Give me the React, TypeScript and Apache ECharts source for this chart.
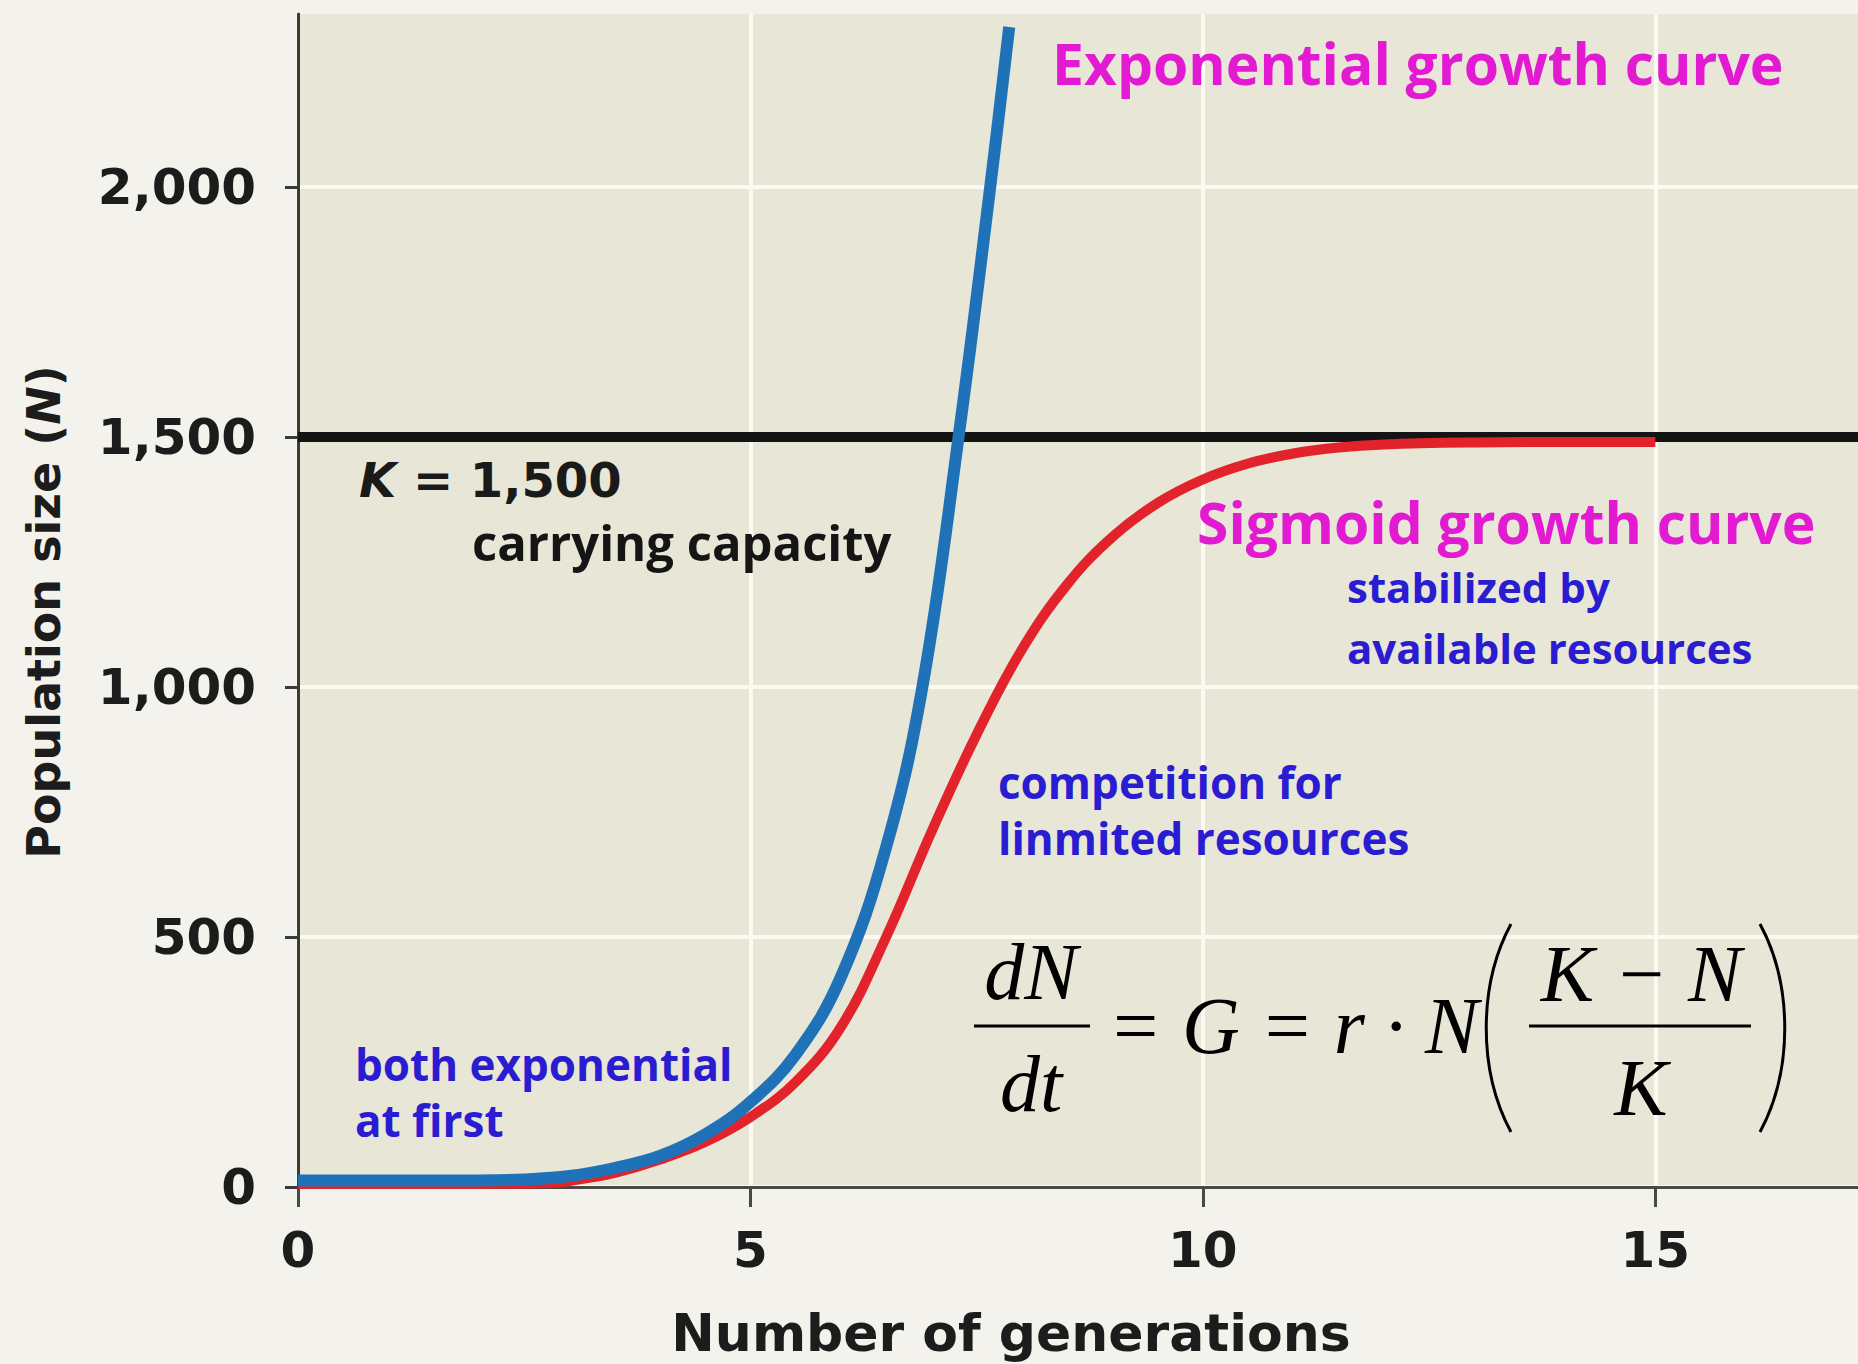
import React, { useEffect, useRef } from "react";
import * as echarts from "echarts";

const X_MAX = 17.24;
const Y_MAX = 2346;
const K_VALUE = 1500;
const xTickValues = [0, 5, 10, 15];
const yTickValues = [0, 500, 1000, 1500, 2000];

const expGen = [0, 1, 2, 2.5, 3, 3.5, 4, 4.5, 5, 5.5, 6, 6.5, 6.9, 7.3, 7.65, 7.86];
const expPop = [13, 13, 13, 15, 22, 38, 62, 105, 170, 265, 420, 680, 1000, 1500, 2000, 2320];

const sigGen = [0, 1, 2, 2.8, 3.2, 3.5, 4, 4.5, 5, 5.5, 6, 6.5, 7, 7.5, 8, 8.5, 9, 9.5, 10, 10.5, 11, 11.5, 12, 13, 14, 15];
const sigPop = [6, 6, 6, 8, 18, 28, 55, 90, 140, 210, 320, 500, 710, 905, 1075, 1205, 1300, 1368, 1415, 1447, 1467, 1479, 1485, 1489, 1490, 1490];

const MAGENTA = "#e21bd2";
const BLUE_TEXT = "#2a1cd0";
const CAL = "'Open Sans', Lato, sans-serif";
const SERIF = "'Liberation Serif', 'DejaVu Serif', serif";
const HELV = "'DejaVu Sans', 'Liberation Sans', sans-serif";

function fmt(v: number): string {
  if (v >= 1000) {
    return `${Math.floor(v / 1000)},${String(v % 1000).padStart(3, "0")}`;
  }
  return String(v);
}

function txt(text: string, x: number, y: number, size: number, fill: string, family = CAL, weight: any = "bold", extra: any = {}) {
  return {
    type: "text",
    x,
    y,
    z: 100,
    style: {
      text,
      fontSize: size,
      fontFamily: family,
      fontWeight: weight,
      lineHeight: Math.round(size * 1.0),
      fill,
      align: "left",
      verticalAlign: "middle",
      ...extra,
    },
  };
}

export default function App() {
  const ref = useRef<HTMLDivElement>(null);
  useEffect(() => {
    document.body.style.margin = "0";
    if (!ref.current) return;
    const chart = echarts.init(ref.current, undefined, { renderer: "svg" });
    const option: any = {
      animation: false,
      backgroundColor: "#f4f2ec",
      grid: {
        left: 298,
        right: 0,
        top: 14,
        bottom: 177,
        show: true,
        backgroundColor: "#e8e6d6",
        borderWidth: 0,
        containLabel: false,
      },
      xAxis: {
        type: "value",
        min: 0,
        max: X_MAX,
        interval: 5,
        axisLine: { show: true, lineStyle: { color: "#4a4a44", width: 3 } },
        axisTick: { show: true, length: 20, lineStyle: { color: "#4a4a44", width: 3 }, customValues: xTickValues },
        axisLabel: {
          customValues: xTickValues,
          margin: 38,
          fontSize: 50,
          fontFamily: HELV,
          fontWeight: "bold",
          color: "#1c1c1c",
          formatter: (v: number) => String(v),
        },
        splitLine: { show: true, lineStyle: { color: "#fbfaf2", width: 4 } },
      },
      yAxis: {
        type: "value",
        min: 0,
        max: Y_MAX,
        interval: 500,
        axisLine: { show: true, lineStyle: { color: "#3a3a36", width: 3 } },
        axisTick: { show: true, length: 13, lineStyle: { color: "#3a3a36", width: 3 }, customValues: yTickValues },
        axisLabel: {
          customValues: yTickValues,
          margin: 42,
          fontSize: 50,
          fontFamily: HELV,
          fontWeight: "bold",
          color: "#1c1c1c",
          formatter: (v: number) => fmt(v),
        },
        splitLine: { show: true, lineStyle: { color: "#fbfaf2", width: 4 } },
      },
      series: [
        {
          name: "K",
          type: "line",
          data: [[0, K_VALUE], [X_MAX, K_VALUE]],
          symbol: "none",
          lineStyle: { color: "#141414", width: 10 },
          silent: true,
        },
        {
          name: "Sigmoid",
          type: "line",
          data: sigGen.map((g, i) => [g, sigPop[i]]),
          symbol: "none",
          smooth: 0.4,
          lineStyle: { color: "#e3232b", width: 10 },
        },
        {
          name: "Exponential",
          type: "line",
          data: expGen.map((g, i) => [g, expPop[i]]),
          symbol: "none",
          smooth: 0.4,
          lineStyle: { color: "#1f72b8", width: 12 },
        },
      ],
      graphic: [
        {
          type: "text",
          x: 44,
          y: 612,
          rotation: Math.PI / 2,
          z: 100,
          style: {
            text: "{a|Population size (}{b|N}{a|)}",
            align: "center",
            verticalAlign: "middle",
            rich: {
              a: { fontSize: 46, fontFamily: HELV, fontWeight: "bold", fill: "#1c1c1c" },
              b: { fontSize: 46, fontFamily: HELV, fontWeight: "bold", fontStyle: "italic", fill: "#1c1c1c" },
            },
          },
        },
        {
          type: "text",
          x: 1011,
          y: 1333,
          z: 100,
          style: {
            text: "Number of generations",
            fontSize: 52,
            fontFamily: HELV,
            fontWeight: "bold",
            fill: "#1c1c1c",
            align: "center",
            verticalAlign: "middle",
          },
        },
        txt("Exponential growth curve", 1052, 63, 57, MAGENTA),
        {
          type: "text",
          x: 359,
          y: 480,
          z: 100,
          style: {
            text: "{k|K}{n| = 1,500}",
            align: "left",
            verticalAlign: "middle",
            rich: {
              k: { fontSize: 48, lineHeight: 48, fontFamily: HELV, fontStyle: "italic", fontWeight: "bold", fill: "#1a1a1a" },
              n: { fontSize: 48, lineHeight: 48, fontFamily: HELV, fontWeight: "bold", fill: "#1a1a1a" },
            },
          },
        },
        txt("carrying capacity", 472, 542, 49, "#151515"),
        txt("Sigmoid growth curve", 1197, 522, 57, MAGENTA),
        txt("stabilized by", 1347, 586, 42, BLUE_TEXT),
        txt("available resources", 1347, 647, 42, BLUE_TEXT),
        txt("competition for", 998, 782, 44, BLUE_TEXT),
        txt("linmited resources", 998, 838, 44, BLUE_TEXT),
        txt("both exponential", 355, 1064, 44, BLUE_TEXT),
        txt("at first", 355, 1120, 44, BLUE_TEXT),
        // equation
        { ...txt("dN", 1031, 972, 80, "#000", SERIF, "normal", { fontStyle: "italic", align: "center" }) },
        { type: "line", z: 100, shape: { x1: 974, y1: 1026, x2: 1090, y2: 1026 }, style: { stroke: "#000", lineWidth: 3 } },
        { ...txt("dt", 1031, 1084, 80, "#000", SERIF, "normal", { fontStyle: "italic", align: "center" }) },
        { ...txt("= G = r · N", 1108, 1026, 80, "#000", SERIF, "normal", { fontStyle: "italic" }) },
        {
          type: "bezierCurve",
          z: 100,
          shape: { x1: 1511, y1: 924, x2: 1511, y2: 1132, cpx1: 1478, cpy1: 985, cpx2: 1478, cpy2: 1071 },
          style: { stroke: "#000", lineWidth: 3, fill: "none" },
        },
        {
          type: "bezierCurve",
          z: 100,
          shape: { x1: 1760, y1: 924, x2: 1760, y2: 1132, cpx1: 1793, cpy1: 985, cpx2: 1793, cpy2: 1071 },
          style: { stroke: "#000", lineWidth: 3, fill: "none" },
        },
        { ...txt("K − N", 1641, 974, 80, "#000", SERIF, "normal", { fontStyle: "italic", align: "center" }) },
        { type: "line", z: 100, shape: { x1: 1529, y1: 1026, x2: 1751, y2: 1026 }, style: { stroke: "#000", lineWidth: 3 } },
        { ...txt("K", 1641, 1088, 80, "#000", SERIF, "normal", { fontStyle: "italic", align: "center" }) },
      ],
    };
    chart.setOption(option);
    return () => chart.dispose();
  }, []);
  return <div ref={ref} style={{ width: 1858, height: 1364 }} />;
}
